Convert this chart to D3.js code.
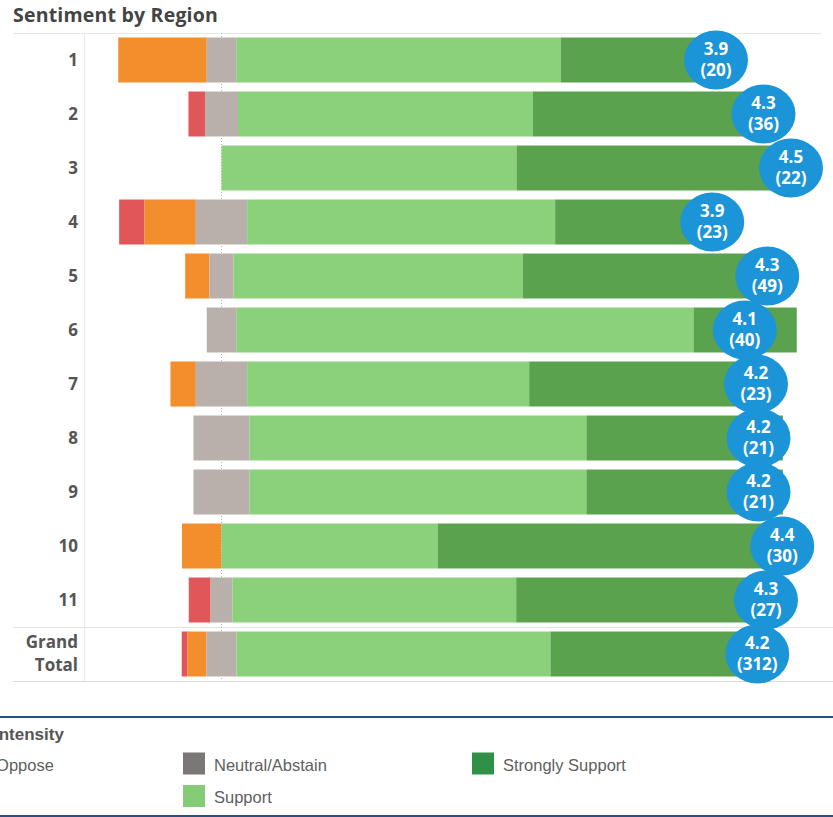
<!DOCTYPE html>
<html>
<head>
<meta charset="utf-8">
<script src="https://cdn.jsdelivr.net/npm/d3@7"></script>
<style>
  html, body { margin: 0; padding: 0; background: #fff; overflow: hidden; }
  svg { display: block; }
</style>
</head>
<body>
<svg id="chart" width="833" height="817"></svg>
<script>
// ---- data (percent of responses per region) ----
const regions = ["1","2","3","4","5","6","7","8","9","10","11","Grand Total"];
const stronglyOppose = [0, 2.8, 0, 4.3, 0, 0, 0, 0, 0, 0, 3.7, 1.0];
const oppose          = [15.0, 0, 0, 8.7, 4.1, 0, 4.3, 0, 0, 6.7, 0, 3.2];
const neutral         = [5.0, 5.6, 0, 8.7, 4.1, 5.0, 8.7, 9.5, 9.5, 0, 3.7, 5.1];
const support         = [55.0, 50.0, 50.0, 52.2, 49.0, 77.5, 47.8, 57.1, 57.1, 36.7, 48.1, 53.2];
const stronglySupport = [25.0, 41.7, 50.0, 26.1, 42.9, 17.5, 39.1, 33.3, 33.3, 56.7, 44.4, 37.5];
const meanScore       = [3.90, 4.28, 4.50, 3.87, 4.31, 4.13, 4.22, 4.24, 4.24, 4.43, 4.30, 4.23];
const respondents     = [20, 36, 22, 23, 49, 40, 23, 21, 21, 30, 27, 312];
const seriesNames = ["Strongly Oppose","Oppose","Neutral/Abstain","Support","Strongly Support"];

const colors = {
  "Strongly Oppose": "#e15759",
  "Oppose": "#f28e2b",
  "Neutral/Abstain": "#b9b0ac",
  "Support": "#8bd07b",
  "Strongly Support": "#5aa24d"
};
const legendColors = {
  "Strongly Oppose": "#e15759",
  "Oppose": "#f28e2b",
  "Neutral/Abstain": "#7b7777",
  "Support": "#86cc78",
  "Strongly Support": "#2f9148"
};

const svg = d3.select("#chart");

// ---- scales ----
const x = d3.scaleLinear().domain([-20, 100]).range([103.5, 811.5]);
const y = d3.scaleBand().domain(regions).range([33, 681]).paddingInner(0.167).paddingOuter(0.0835);
const xMean = d3.scaleLinear().domain([3.9, 4.5]).range([716, 791]);

// ---- title ----
svg.append("text")
  .attr("x", 13).attr("y", 22)
  .attr("font-family", "'Open Sans', sans-serif")
  .attr("font-weight", 700).attr("font-size", 19.5)
  .attr("letter-spacing", 0.2)
  .attr("fill", "#444")
  .text("Sentiment by Region");

// ---- grid / frame lines ----
const g = svg.append("g");
g.append("line").attr("x1", 13).attr("x2", 822).attr("y1", 33.5).attr("y2", 33.5)
  .attr("stroke", "#e8e8e8").attr("stroke-width", 1);
g.append("line").attr("x1", 13).attr("x2", 833).attr("y1", 627.5).attr("y2", 627.5)
  .attr("stroke", "#e2e2e2").attr("stroke-width", 1);
g.append("line").attr("x1", 13).attr("x2", 833).attr("y1", 681.5).attr("y2", 681.5)
  .attr("stroke", "#dcdcdc").attr("stroke-width", 1);
g.append("line").attr("x1", 84.5).attr("x2", 84.5).attr("y1", 33).attr("y2", 681)
  .attr("stroke", "#e8e8e8").attr("stroke-width", 1);
// zero reference line
g.append("line").attr("x1", x(0)).attr("x2", x(0)).attr("y1", 33).attr("y2", 681)
  .attr("stroke", "#b0b0b0").attr("stroke-width", 1).attr("stroke-dasharray", "1,2");

// ---- stacked diverging bars ----
const rows = regions.map((r, i) => {
  const vals = [stronglyOppose[i], oppose[i], neutral[i], support[i], stronglySupport[i]];
  let start = -(vals[0] + vals[1] + vals[2] / 2);
  return vals.map((v, k) => {
    const s = { region: r, key: seriesNames[k], x0: start, x1: start + v };
    start += v;
    return s;
  });
});

const barG = svg.append("g");
rows.forEach(segs => {
  barG.selectAll(null).data(segs.filter(s => s.x1 - s.x0 > 0)).enter()
    .append("rect")
    .attr("x", d => x(d.x0))
    .attr("width", d => x(d.x1) - x(d.x0))
    .attr("y", d => y(d.region))
    .attr("height", y.bandwidth())
    .attr("fill", d => colors[d.key]);
});

// ---- row labels ----
const labG = svg.append("g")
  .attr("font-family", "'Open Sans', sans-serif")
  .attr("font-weight", 700).attr("font-size", 17).attr("fill", "#555")
  .attr("text-anchor", "end");
regions.forEach(r => {
  const cy = y(r) + y.bandwidth() / 2;
  if (r === "Grand Total") {
    labG.append("text").attr("x", 78).attr("y", cy - 6).text("Grand");
    labG.append("text").attr("x", 78).attr("y", cy + 17).text("Total");
  } else {
    labG.append("text").attr("x", 78).attr("y", cy + 6).text(r);
  }
});

// ---- mean bubbles ----
const bubG = svg.append("g");
regions.forEach((r, i) => {
  const cx = xMean(meanScore[i]);
  const cy = y(r) + y.bandwidth() / 2;
  bubG.append("ellipse").attr("cx", cx).attr("cy", cy).attr("rx", 32).attr("ry", 29.5)
    .attr("fill", "#1b95d8");
  const t = bubG.append("text")
    .attr("font-family", "'Open Sans', sans-serif")
    .attr("font-weight", 700).attr("font-size", 17).attr("fill", "#fff")
    .attr("text-anchor", "middle");
  t.append("tspan").attr("x", cx).attr("y", cy - 5).text(d3.format(".1f")(meanScore[i]));
  t.append("tspan").attr("x", cx).attr("y", cy + 16).text("(" + respondents[i] + ")");
});

// ---- legend ----
const lg = svg.append("g");
lg.append("rect").attr("x", 0).attr("y", 716).attr("width", 833).attr("height", 2).attr("fill", "#2c4f80");
lg.append("rect").attr("x", 0).attr("y", 815).attr("width", 833).attr("height", 2).attr("fill", "#2c4f80");
lg.append("text").attr("x", -6).attr("y", 740)
  .attr("font-family", "'Liberation Sans', Arial, sans-serif")
  .attr("font-weight", 700).attr("font-size", 17).attr("fill", "#555")
  .text("Intensity");

const legendPos = [
  { key: "Strongly Oppose", sx: -100, row: 0, tx: -69 },
  { key: "Oppose", sx: -100, row: 1, tx: -69 },
  { key: "Neutral/Abstain", sx: 183, row: 0, tx: 214 },
  { key: "Support", sx: 183, row: 1, tx: 214 },
  { key: "Strongly Support", sx: 472, row: 0, tx: 503 }
];
legendPos.forEach(p => {
  const top = p.row === 0 ? 752.5 : 785;
  lg.append("rect").attr("x", p.sx).attr("y", top).attr("width", 22).attr("height", 22)
    .attr("fill", legendColors[p.key]);
  lg.append("text").attr("x", p.tx).attr("y", top + 18)
    .attr("font-family", "'Liberation Sans', Arial, sans-serif")
    .attr("font-size", 16.5).attr("fill", "#606060")
    .text(p.key);
});
</script>
</body>
</html>
